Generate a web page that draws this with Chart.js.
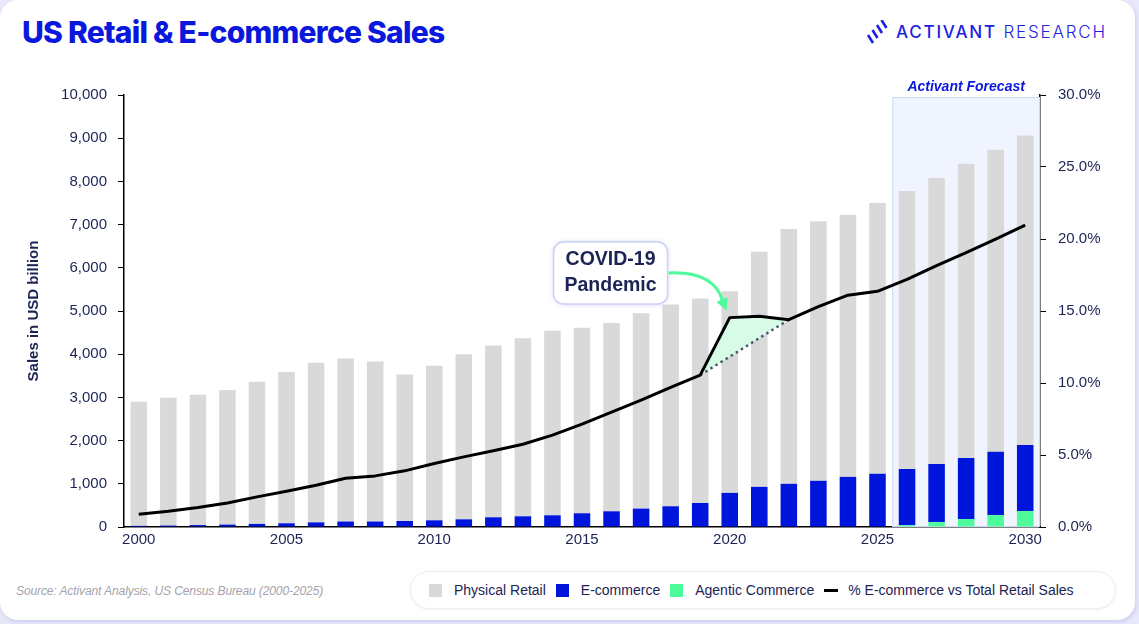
<!DOCTYPE html>
<html>
<head>
<meta charset="utf-8">
<script src="https://cdn.jsdelivr.net/npm/chart.js@4.4.1/dist/chart.umd.min.js"></script>
<style>
  html, body { margin:0; padding:0; width:1139px; height:624px; overflow:hidden; background:#e9e8fa; font-family:"Liberation Sans", Arial, sans-serif; }
  #card { position:absolute; left:0; top:0; width:1135px; height:620px; background:#fff; border-radius:18px; box-shadow: 1px 2px 4px rgba(150,150,220,0.35); }
  #title { position:absolute; left:22px; top:14px; font-family:Inter, sans-serif; font-weight:800; font-size:30px; letter-spacing:-0.75px; color:#0a17dc; white-space:nowrap; }
  #logo { position:absolute; left:866px; top:19px; height:26px; display:flex; align-items:center; color:#1c22e0; }
  #logo svg { margin-right:8px; }
  #logo .t { font-family:Inter, sans-serif; font-size:17px; letter-spacing:1.8px; white-space:nowrap; }
  #logo .a { font-weight:500; } #logo .r { font-weight:300; }
  #wrap { position:absolute; left:0; top:70px; width:1139px; height:490px; }
  #source { position:absolute; left:16px; top:584px; font-style:italic; font-size:12px; color:#a3a3ab; white-space:nowrap; letter-spacing:-0.1px; }
  #legend { position:absolute; left:410px; top:571px; width:706px; height:38px; padding-left:13px; box-sizing:border-box; border:1px solid #ececf3; border-radius:20px; box-shadow:0 1px 3px rgba(0,0,0,0.05); display:flex; align-items:center; justify-content:flex-start; font-size:14px; color:#1c2454; white-space:nowrap; background:#fff; }
  .li { display:flex; align-items:center; margin:0 5px; }
  .sw { width:13px; height:13px; margin-right:12px; }
  .ln { width:14px; height:3px; margin-right:10px; }
</style>
</head>
<body>
<div id="card"></div>
<div id="title">US Retail &amp; E-commerce Sales</div>
<div id="logo">
  <svg width="22" height="24" viewBox="0 0 22 24">
    <g stroke="#1c22e0" stroke-width="2.6" stroke-linecap="butt">
      <line x1="2" y1="15" x2="7" y2="23"/>
      <line x1="6.5" y1="10" x2="11.5" y2="18"/>
      <line x1="11" y1="5" x2="16" y2="13"/>
      <line x1="15.5" y1="0" x2="20.5" y2="8"/>
    </g>
  </svg>
  <span class="t"><span class="a">ACTIVANT</span> <span class="r">RESEARCH</span></span>
</div>
<div id="wrap"><canvas id="c"></canvas></div>
<div id="source">Source: Activant Analysis, US Census Bureau (2000-2025)</div>
<div id="legend"></div>
<script>
const years = ['2000','2001','2002','2003','2004','2005','2006','2007','2008','2009','2010','2011','2012','2013','2014','2015','2016','2017','2018','2019','2020','2021','2022','2023','2024','2025','2026','2027','2028','2029','2030'];
const physicalRetail = [2873,2956,3015,3114,3289,3504,3693,3773,3703,3391,3575,3822,3975,4122,4269,4292,4356,4524,4670,4734,4670,5440,5900,6010,6070,6270,6440,6620,6810,6990,7160];
const ecommerce = [27,34,45,56,71,86,107,127,127,139,155,178,225,248,271,318,364,426,480,556,790,930,1000,1070,1160,1230,1300,1345,1415,1462,1530];
const agenticCommerce = [0,0,0,0,0,0,0,0,0,0,0,0,0,0,0,0,0,0,0,0,0,0,0,0,0,0,40,115,185,278,370];
const ecomShare = [0.88,1.09,1.35,1.67,2.09,2.48,2.90,3.39,3.55,3.90,4.41,4.87,5.29,5.75,6.38,7.14,7.98,8.81,9.69,10.55,14.54,14.63,14.40,15.30,16.10,16.37,17.20,18.15,19.06,19.99,20.96];
const preCovidTrend = [null,null,null,null,null,null,null,null,null,null,null,null,null,null,null,null,null,null,null,10.55,11.83,13.12,14.40,null,null,null,null,null,null,null,null];
const covidActual = [null,null,null,null,null,null,null,null,null,null,null,null,null,null,null,null,null,null,null,10.55,14.54,14.63,14.40,null,null,null,null,null,null,null,null];
const leftTicks = [0,1000,2000,3000,4000,5000,6000,7000,8000,9000,10000];
const rightTicks = [0,5,10,15,20,25,30];
const forecastStart = '2026';

const NAVY = '#1c2454';
const GREY = '#d9d9d9', BLUE = '#0015dc', GREEN = '#4dfb9b';

const overlay = {
  id:'overlay',
  beforeDatasetsDraw(chart){
    const {ctx, chartArea:a, scales:{x}} = chart;
    const i = years.indexOf(forecastStart);
    const left = (x.getPixelForValue(i) + x.getPixelForValue(i-1))/2;
    ctx.save();
    ctx.fillStyle = '#eff4fe';
    ctx.strokeStyle = '#cbdaf3';
    ctx.lineWidth = 1;
    ctx.fillRect(left, a.top+2, a.right-left, a.bottom-a.top-2);
    ctx.strokeRect(left+0.5, a.top+2.5, a.right-left-1, a.bottom-a.top-3);
    ctx.fillStyle = '#0a17dc';
    ctx.font = 'italic bold 14px "Liberation Sans", Arial';
    ctx.textAlign = 'center'; ctx.textBaseline = 'middle';
    ctx.fillText('Activant Forecast', (left + a.right)/2, a.top - 8);
    ctx.restore();
  },
  afterDatasetsDraw(chart){
    const {ctx, scales:{x, y, y1}} = chart;
    const cx = x.getPixelForValue(16) - 1, cy = y.getPixelForValue(5880);
    const w = 114, h = 62, r = 10;
    const bx = cx - w/2, by = cy - h/2;
    ctx.save();
    ctx.shadowColor = 'rgba(120,120,240,0.35)'; ctx.shadowBlur = 5;
    ctx.beginPath(); ctx.roundRect(bx, by, w, h, r);
    ctx.fillStyle = '#fff'; ctx.fill();
    ctx.shadowBlur = 0;
    ctx.strokeStyle = '#cdd0f8'; ctx.lineWidth = 1.5; ctx.stroke();
    ctx.fillStyle = NAVY;
    ctx.font = 'bold 19.5px "Liberation Sans", Arial';
    ctx.textAlign = 'center'; ctx.textBaseline = 'middle';
    ctx.fillText('COVID-19', cx, cy - 13);
    ctx.fillText('Pandemic', cx, cy + 13);
    const sx = bx + w + 1, sy = cy;
    const ex = x.getPixelForValue(20) - 3, ey = y1.getPixelForValue(ecomShare[20]) - 7;
    ctx.strokeStyle = GREEN; ctx.fillStyle = GREEN; ctx.lineWidth = 3;
    ctx.beginPath(); ctx.moveTo(sx, sy);
    ctx.quadraticCurveTo(ex - 12, sy - 2, ex - 4, ey - 9);
    ctx.stroke();
    const ang = Math.atan2(9, 4);
    const L = 12, W = 6;
    ctx.beginPath();
    ctx.moveTo(ex, ey);
    ctx.lineTo(ex - L*Math.cos(ang) + W*Math.sin(ang), ey - L*Math.sin(ang) - W*Math.cos(ang));
    ctx.lineTo(ex - L*Math.cos(ang) - W*Math.sin(ang), ey - L*Math.sin(ang) + W*Math.cos(ang));
    ctx.closePath(); ctx.fill();
    ctx.restore();
  }
};

const chart = new Chart(document.getElementById('c'), {
  type:'bar',
  data:{
    labels: years,
    datasets:[
      {label:'Agentic Commerce', data:agenticCommerce, backgroundColor:GREEN, stack:'s', order:3, legendIndex:2},
      {label:'E-commerce', data:ecommerce, backgroundColor:BLUE, stack:'s', order:3, legendIndex:1},
      {label:'Physical Retail', data:physicalRetail, backgroundColor:GREY, stack:'s', order:3, legendIndex:0},
      {type:'line', label:'covidFill', data:covidActual, yAxisID:'y1', borderWidth:0, pointRadius:0, borderColor:'rgba(0,0,0,0)', backgroundColor:'#d8fbe7', fill:{target:4, above:'#d8fbe7', below:'#d8fbe7'}, order:2, spanGaps:false, hideLegend:true},
      {type:'line', label:'trend', data:preCovidTrend, yAxisID:'y1', borderColor:'#4a5871', borderWidth:2.5, borderDash:[2.5,3.5], pointRadius:0, fill:false, order:1, hideLegend:true},
      {type:'line', label:'% E-commerce vs Total Retail Sales', data:ecomShare, yAxisID:'y1', borderColor:'#000', borderWidth:3, pointRadius:0, fill:false, order:0, tension:0, legendIndex:3, borderJoinStyle:'round'}
    ]
  },
  options:{
    responsive:true, maintainAspectRatio:false, animation:false,
    datasets:{ bar:{ barPercentage:0.56, categoryPercentage:1.0 } },
    layout:{ padding:{ left:25, top:25, right:0, bottom:0 } },
    plugins:{ legend:{display:false}, tooltip:{enabled:false} },
    scales:{
      x:{
        stacked:true, offset:true,
        grid:{display:false, drawTicks:false},
        border:{display:true, color:'#000', width:1.5},
        ticks:{ autoSkip:false, maxRotation:0, padding:4, color:NAVY, font:{size:15, family:'"Liberation Sans", Arial'},
          callback:(v,i)=> (parseInt(years[i]) % 5 === 0 ? years[i] : '') },
        afterFit:(s)=>{ s.height = 33; }
      },
      y:{
        stacked:true, position:'left', min:0, max:10000,
        afterBuildTicks:(s)=>{ s.ticks = leftTicks.map(v=>({value:v})); },
        grid:{display:true, drawOnChartArea:false, drawTicks:true, tickLength:6, tickColor:'#000', tickWidth:1},
        border:{display:true, color:'#000', width:1.5},
        ticks:{ padding:11, color:NAVY, font:{size:15, family:'"Liberation Sans", Arial'}, callback:(v)=>v.toLocaleString('en-US') },
        title:{ display:true, text:'Sales in USD billion', color:NAVY, font:{size:15, weight:'bold', family:'"Liberation Sans", Arial'}, padding:{top:0,bottom:0} },
        afterFit:(s)=>{ s.width = 99; }
      },
      y1:{
        position:'right', min:0, max:30,
        afterBuildTicks:(s)=>{ s.ticks = rightTicks.map(v=>({value:v})); },
        grid:{display:true, drawOnChartArea:false, drawTicks:true, tickLength:6, tickColor:'#000', tickWidth:1},
        border:{display:true, color:'#000', width:1.5},
        ticks:{ padding:12, color:NAVY, font:{size:15, family:'"Liberation Sans", Arial'}, callback:(v)=>v.toFixed(1)+'%' },
        afterFit:(s)=>{ s.width = 99; }
      }
    }
  },
  plugins:[overlay]
});

const lg = document.getElementById('legend');
chart.data.datasets.filter(d=>!d.hideLegend).sort((a,b)=>a.legendIndex-b.legendIndex).forEach(d=>{
  const item = document.createElement('div'); item.className='li';
  const sw = document.createElement('div');
  if (d.type === 'line') { sw.className='ln'; sw.style.background = d.borderColor; }
  else { sw.className='sw'; sw.style.background = d.backgroundColor; }
  const t = document.createElement('span'); t.textContent = d.label;
  item.appendChild(sw); item.appendChild(t); lg.appendChild(item);
});
</script>
</body>
</html>
